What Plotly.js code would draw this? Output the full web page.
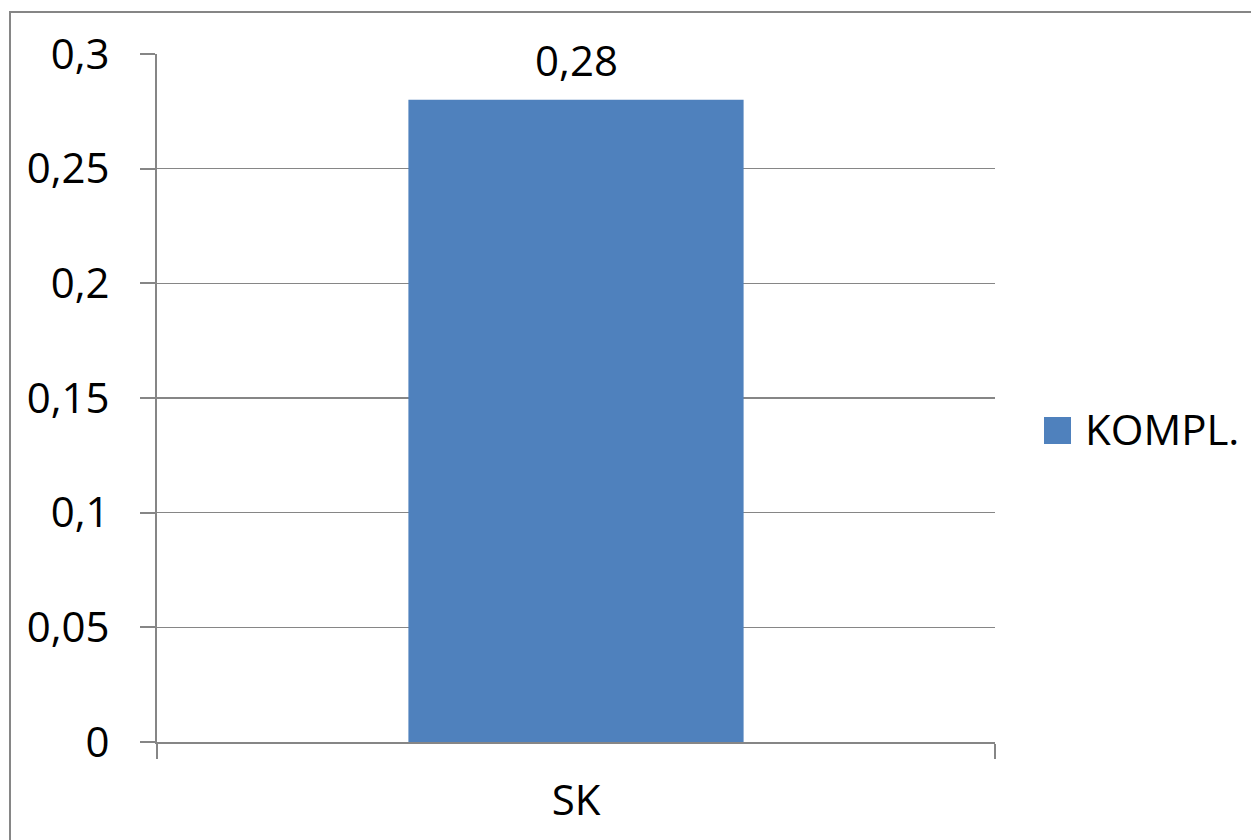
<!DOCTYPE html>
<html>
<head>
<meta charset="utf-8">
<script src="https://cdn.plot.ly/plotly-3.0.1.min.js"></script>
<style>
  html, body { margin: 0; padding: 0; background: #ffffff; }
  #chart { width: 1251px; height: 840px; }
</style>
</head>
<body>
<div id="chart"></div>
<script>
// Series data
const categories = ['SK'];
const seriesName = 'KOMPL.';
const values = [0.28];

// Value-axis ticks
const yTickVals = [0, 0.05, 0.1, 0.15, 0.2, 0.25, 0.3];
const yTickText = ['0', '0,05', '0,1', '0,15', '0,2', '0,25', '0,3'];

const barColor = '#4F81BD';
const gridColor = '#868686';
const fontFamily = '"Open Sans", "Noto Sans", sans-serif';

const W = 1251, H = 840;
const margin = { l: 157, r: 256, t: 54, b: 98 };
const plotW = W - margin.l - margin.r;
const plotH = H - margin.t - margin.b;
// pixel -> paper coordinate helpers for decorations outside the plot area
const px = x => (x - margin.l) / plotW;
const py = y => (H - margin.b - y) / plotH;

const fmt = v => String(v).replace('.', ',');

const trace = {
  type: 'bar',
  name: seriesName,
  x: categories,
  y: values,
  marker: { color: barColor, line: { width: 0 } },
  width: 0.4,
  showlegend: false,
  hoverinfo: 'x+y'
};

const layout = {
  width: W,
  height: H,
  margin: margin,
  paper_bgcolor: '#ffffff',
  plot_bgcolor: '#ffffff',
  separators: ', ',
  font: { family: fontFamily, size: 42, color: '#000000' },
  showlegend: false,
  xaxis: {
    type: 'category',
    range: [-0.5, 0.5],
    showgrid: false,
    showline: true,
    linecolor: gridColor,
    linewidth: 2,
    ticks: 'outside',
    tickson: 'boundaries',
    ticklen: 15,
    tickwidth: 2,
    tickcolor: gridColor,
    ticklabelstandoff: 21,
    tickfont: { family: fontFamily, size: 42, color: '#000000' },
    fixedrange: true
  },
  yaxis: {
    range: [0, 0.3],
    tickvals: yTickVals,
    ticktext: yTickText,
    showgrid: true,
    gridcolor: gridColor,
    gridwidth: 1.5,
    zeroline: false,
    showline: true,
    linecolor: gridColor,
    linewidth: 2,
    ticks: 'outside',
    ticklen: 15,
    tickwidth: 2,
    tickcolor: gridColor,
    ticklabelstandoff: 22,
    tickfont: { family: fontFamily, size: 42, color: '#000000' },
    fixedrange: true
  },
  annotations: [
    // value label above the bar
    {
      x: categories[0], y: values[0], xref: 'x', yref: 'y',
      text: fmt(values[0]),
      showarrow: false,
      yanchor: 'bottom',
      yshift: 10,
      font: { family: fontFamily, size: 42, color: '#000000' }
    },
    // legend text
    {
      x: px(1083), y: py(428), xref: 'paper', yref: 'paper',
      text: seriesName,
      showarrow: false,
      xanchor: 'left', yanchor: 'middle',
      font: { family: fontFamily, size: 42, color: '#000000' }
    }
  ],
  shapes: [
    // legend swatch
    {
      type: 'rect', xref: 'paper', yref: 'paper',
      x0: px(1044), x1: px(1071), y0: py(444), y1: py(417),
      fillcolor: barColor, line: { width: 0 }
    },
    // chart frame (left and top edges)
    {
      type: 'path', xref: 'paper', yref: 'paper',
      path: 'M ' + px(10) + ',' + py(H + 20) + ' L ' + px(10) + ',' + py(12) + ' L ' + px(W + 20) + ',' + py(12),
      line: { color: gridColor, width: 2 }
    }
  ]
};

Plotly.newPlot('chart', [trace], layout, { displayModeBar: false, staticPlot: true });
</script>
</body>
</html>
